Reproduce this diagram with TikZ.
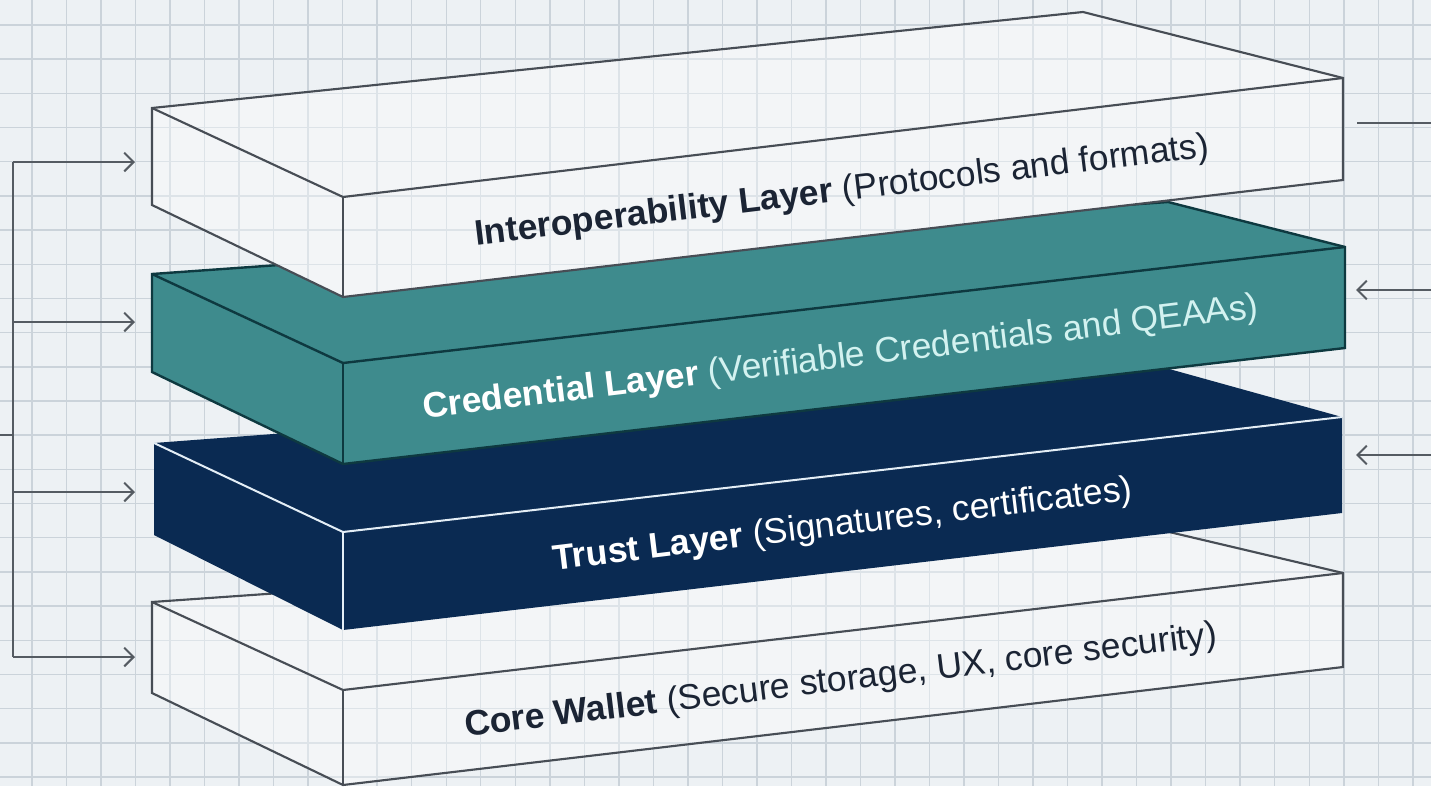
\documentclass[tikz,border=0pt]{standalone}
\usepackage{fontspec}
\setmainfont{Liberation Sans}
\usetikzlibrary{arrows.meta}
\definecolor{bg}{HTML}{EDF1F4}
\definecolor{gridc}{HTML}{CBD3DA}
\definecolor{slabbg}{HTML}{F3F5F7}
\definecolor{gridin}{HTML}{DDE3E8}
\definecolor{edgec}{HTML}{474D55}
\definecolor{tealc}{HTML}{3E8B8D}
\definecolor{tealedge}{HTML}{0E3940}
\definecolor{navyc}{HTML}{0A2A52}
\definecolor{navyedge}{HTML}{E4EEF6}
\definecolor{darktext}{HTML}{1B2434}
\definecolor{lightcyan}{HTML}{D3F2F0}
\definecolor{connc}{HTML}{555B62}
\tikzset{
  gridline/.style={draw=gridc, line width=1.1pt},
  gridinner/.style={draw=gridin, line width=1.1pt},
  whiteedge/.style={draw=edgec, line width=1.6pt, line join=miter},
  tealline/.style={draw=tealedge, line width=1.8pt, line join=miter},
  navyline/.style={draw=navyedge, line width=1.5pt},
  conn/.style={draw=connc, line width=1.5pt},
  arr/.style={conn, -{Straight Barb[length=7pt,width=14pt]}},
  label/.style={rotate=6.9, anchor=base, inner sep=0pt, font=\fontsize{26.6}{32}\selectfont},
}
\begin{document}
\begin{tikzpicture}[x=0.75pt, y=-0.75pt]
\useasboundingbox (0,0) rectangle (1431,786);
\fill[bg] (0,0) rectangle (1431,786);
% grid
\foreach \i in {0,...,40} \draw[gridline] ({32+34.52*\i},0) -- ({32+34.52*\i},786);
\foreach \j in {0,...,22} \draw[gridline] (0,{25+34.18*\j}) -- (1431,{25+34.18*\j});

% ---------- connectors ----------
\coordinate (busT) at (13,162);
\coordinate (bus2) at (13,322);
\coordinate (bus3) at (13,492);
\coordinate (busB) at (13,657);
\coordinate (busS) at (13,435);
\coordinate (stub) at (0,435);
\coordinate (inA) at (135,162);
\coordinate (inB) at (135,322);
\coordinate (inC) at (135,492);
\coordinate (inD) at (135,657);
\draw[conn] (busT) -- (busB);
\draw[conn] (stub) -- (busS);
\draw[arr] (busT) -- (inA);
\draw[arr] (bus2) -- (inB);
\draw[arr] (bus3) -- (inC);
\draw[arr] (busB) -- (inD);
\coordinate (rA0) at (1431,123);
\coordinate (rA1) at (1357,123);
\coordinate (rB0) at (1431,290);
\coordinate (rB1) at (1356,290);
\coordinate (rC0) at (1431,455);
\coordinate (rC1) at (1356,455);
\draw[conn] (rA0) -- (rA1);
\draw[arr] (rB0) -- (rB1);
\draw[arr] (rC0) -- (rC1);

% ---------- Core wallet slab ----------
\coordinate (c1) at (152,602);
\coordinate (c2) at (1165,531);
\coordinate (c3) at (1343,573);
\coordinate (c4) at (1343,667);
\coordinate (c5) at (343,785);
\coordinate (c6) at (152,693);
\coordinate (c7) at (343,690);
\fill[slabbg] (c1) -- (c2) -- (c3) -- (c4) -- (c5) -- (c6) -- cycle;
\begin{scope}
\clip (c1) -- (c2) -- (c3) -- (c4) -- (c5) -- (c6) -- cycle;
\foreach \i in {0,...,40} \draw[gridinner] ({32+34.52*\i},0) -- ({32+34.52*\i},786);
\foreach \j in {0,...,22} \draw[gridinner] (0,{25+34.18*\j}) -- (1431,{25+34.18*\j});
\end{scope}
\draw[whiteedge] (c1) -- (c2) -- (c3) -- (c4) -- (c5) -- (c6) -- cycle;
\draw[whiteedge] (c1) -- (c7) -- (c3);
\draw[whiteedge] (c7) -- (c5);

% ---------- Trust slab ----------
\coordinate (n1) at (154,443);
\coordinate (n2) at (1162,367);
\coordinate (n3) at (1342,417);
\coordinate (n4) at (1342,513);
\coordinate (n5) at (343,630);
\coordinate (n6) at (154,535);
\coordinate (n7) at (343,532);
\fill[navyc] (n1) -- (n2) -- (n3) -- (n4) -- (n5) -- (n6) -- cycle;
\draw[navyline] (n1) -- (n7) -- (n3);
\draw[navyline] (n7) -- (n5);

% ---------- Credential slab ----------
\coordinate (t1) at (152,274);
\coordinate (t2) at (1168,202);
\coordinate (t3) at (1345,247);
\coordinate (t4) at (1345,348);
\coordinate (t5) at (343,464);
\coordinate (t6) at (152,372);
\coordinate (t7) at (343,363);
\fill[tealc] (t1) -- (t2) -- (t3) -- (t4) -- (t5) -- (t6) -- cycle;
\draw[tealline] (t1) -- (t2) -- (t3) -- (t4) -- (t5) -- (t6) -- cycle;
\draw[tealline] (t1) -- (t7) -- (t3);
\draw[tealline] (t7) -- (t5);

% ---------- Interoperability slab ----------
\coordinate (i1) at (152,108);
\coordinate (i2) at (1083,12);
\coordinate (i3) at (1343,78);
\coordinate (i4) at (1343,180);
\coordinate (i5) at (343,297);
\coordinate (i6) at (152,205);
\coordinate (i7) at (343,197);
\fill[slabbg] (i1) -- (i2) -- (i3) -- (i4) -- (i5) -- (i6) -- cycle;
\begin{scope}
\clip (i1) -- (i2) -- (i3) -- (i4) -- (i5) -- (i6) -- cycle;
\foreach \i in {0,...,40} \draw[gridinner] ({32+34.52*\i},0) -- ({32+34.52*\i},786);
\foreach \j in {0,...,22} \draw[gridinner] (0,{25+34.18*\j}) -- (1431,{25+34.18*\j});
\end{scope}
\draw[whiteedge] (i1) -- (i2) -- (i3) -- (i4) -- (i5) -- (i6) -- cycle;
\draw[whiteedge] (i1) -- (i7) -- (i3);
\draw[whiteedge] (i7) -- (i5);

% ---------- labels ----------
\node[label, text=darktext] (lInterop) at (843,201) {\textbf{Interoperability Layer} (Protocols and formats)};
\node[label, text=lightcyan] (lCred) at (842,368) {\textcolor{white}{\textbf{Credential Layer}} (Verifiable Credentials and QEAAs)};
\node[label, text=white] (lTrust) at (844,535) {\textbf{Trust Layer} (Signatures, certificates)};
\node[label, text=darktext] (lCore) at (842,691) {\textbf{Core Wallet} (Secure storage, UX, core security)};
\end{tikzpicture}
\end{document}
